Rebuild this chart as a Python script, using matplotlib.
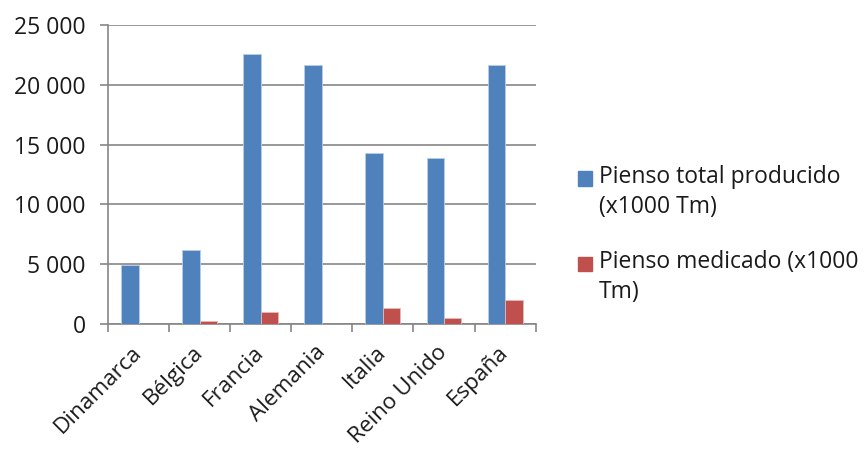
import matplotlib.pyplot as plt
import numpy as np
from matplotlib.patches import Rectangle
from matplotlib.ticker import FuncFormatter

plt.rcParams["font.family"] = ["Open Sans", "DejaVu Sans"]

paises = ["Dinamarca", "Bélgica", "Francia", "Alemania", "Italia", "Reino Unido", "España"]
pienso_total = [4900, 6200, 22600, 21700, 14300, 13900, 21700]
pienso_medicado = [0, 250, 1000, 0, 1300, 500, 2000]
etiquetas = ["Pienso total producido\n(x1000 Tm)", "Pienso medicado (x1000\nTm)"]

azul = "#4F81BD"
rojo = "#C0504D"
gris = "#868686"

fig = plt.figure(figsize=(8.64, 4.5), dpi=100)
ax = fig.add_axes([0.125, 0.28, 0.495, 0.664])

x = np.arange(len(paises))
ancho = 1 / 3.5
ax.bar(x - ancho / 2, pienso_total, ancho, color=azul, edgecolor="#B9CDE5", linewidth=0.6, zorder=3)
ax.bar(x + ancho / 2, pienso_medicado, ancho, color=rojo, edgecolor="#E6B9B8", linewidth=0.6, zorder=3)

ax.set_xlim(-0.5, len(paises) - 0.5)
ax.set_ylim(0, 25000)
ax.set_yticks(np.arange(0, 25001, 5000))
ax.yaxis.set_major_formatter(FuncFormatter(lambda v, p: f"{int(v):,}".replace(",", " ")))
ax.grid(axis="y", color=gris, linewidth=1.2, zorder=0)

# marcas del eje x entre categorías, etiquetas centradas
ax.set_xticks(x)
ax.set_xticks(np.arange(-0.5, len(paises)), minor=True)
ax.set_xticklabels(paises, rotation=45, ha="right", va="center", rotation_mode="anchor",
                   fontsize=16.2, color="#1a1a1a")
ax.tick_params(axis="x", which="major", length=0, pad=18)
ax.tick_params(axis="x", which="minor", length=6, color=gris, width=1.2)
ax.tick_params(axis="y", length=6, color=gris, width=1.2, labelsize=16.5, labelcolor="#1a1a1a", pad=10)

for lado in ["top", "right"]:
    ax.spines[lado].set_visible(False)
for lado in ["left", "bottom"]:
    ax.spines[lado].set_color(gris)
    ax.spines[lado].set_linewidth(1.2)

# leyenda a la derecha
for color, texto, y in zip([azul, rojo], etiquetas, [0.602, 0.413]):
    fig.patches.append(Rectangle((0.669, y - 0.015), 0.0165, 0.032, color=color, transform=fig.transFigure))
    fig.text(0.693, y + 0.032, texto, fontsize=16.5, va="top", color="#1a1a1a", linespacing=1.35)

fig.savefig("out.png", dpi=100)
